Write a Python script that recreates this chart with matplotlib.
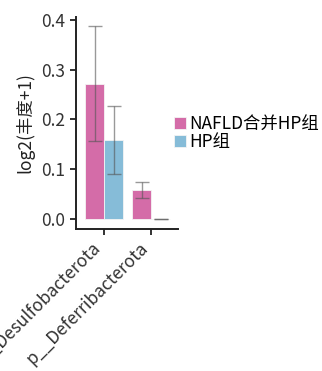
import matplotlib
matplotlib.use("Agg")
import matplotlib.pyplot as plt
import numpy as np

plt.rcParams['font.family'] = ['Noto Sans CJK SC', 'DejaVu Sans']

categories = ["p__Desulfobacterota", "p__Deferribacterota"]
groups = ["NAFLD合并HP组", "HP组"]
means = {
    "NAFLD合并HP组": [0.272, 0.058],
    "HP组": [0.158, 0.0],
}
errs = {
    "NAFLD合并HP组": [0.116, 0.016],
    "HP组": [0.068, 0.0],
}
colors = {"NAFLD合并HP组": "#D46CA8", "HP组": "#86BCD8"}

fig = plt.figure(figsize=(3.22, 3.71), dpi=100)
ax = fig.add_axes([0.236, 0.384, 0.317, 0.569])

x = np.arange(len(categories))
w = 0.4
for i, g in enumerate(groups):
    pos = x - w / 2 + i * w
    ax.bar(pos, means[g], width=w, color=colors[g], edgecolor="#f4f4f4",
           linewidth=0.6, label=g)
    ax.errorbar(pos, means[g], yerr=errs[g], fmt="none", ecolor="#555555",
                alpha=0.6, elinewidth=1.0, capsize=5, capthick=1.0)

ax.set_xlim(-0.6, 1.57)
ax.set_ylim(-0.0195, 0.405)
ax.set_yticks([0.0, 0.1, 0.2, 0.3, 0.4])
ax.set_yticklabels(["0.0", "0.1", "0.2", "0.3", "0.4"])
ax.set_xticks(x)
ax.set_xticklabels(categories, rotation=45, ha="right")
ax.set_ylabel("log2(丰度+1)", fontsize=12.5, color="#222222", labelpad=5)

for s in ["top", "right"]:
    ax.spines[s].set_visible(False)
for s in ["left", "bottom"]:
    ax.spines[s].set_linewidth(1.4)
    ax.spines[s].set_color("#222222")
ax.tick_params(axis="both", labelsize=12.5, colors="#222222", length=4, width=1.3,
               labelcolor="#333333")

handles, labels = ax.get_legend_handles_labels()
fig.legend(handles, labels, loc="upper left", bbox_to_anchor=(0.54, 0.69),
           frameon=False, fontsize=12.5, handlelength=0.7, handleheight=0.7,
           handletextpad=0.2, labelspacing=0.0, borderaxespad=0,
           borderpad=0)

fig.savefig("out.png", dpi=100)
